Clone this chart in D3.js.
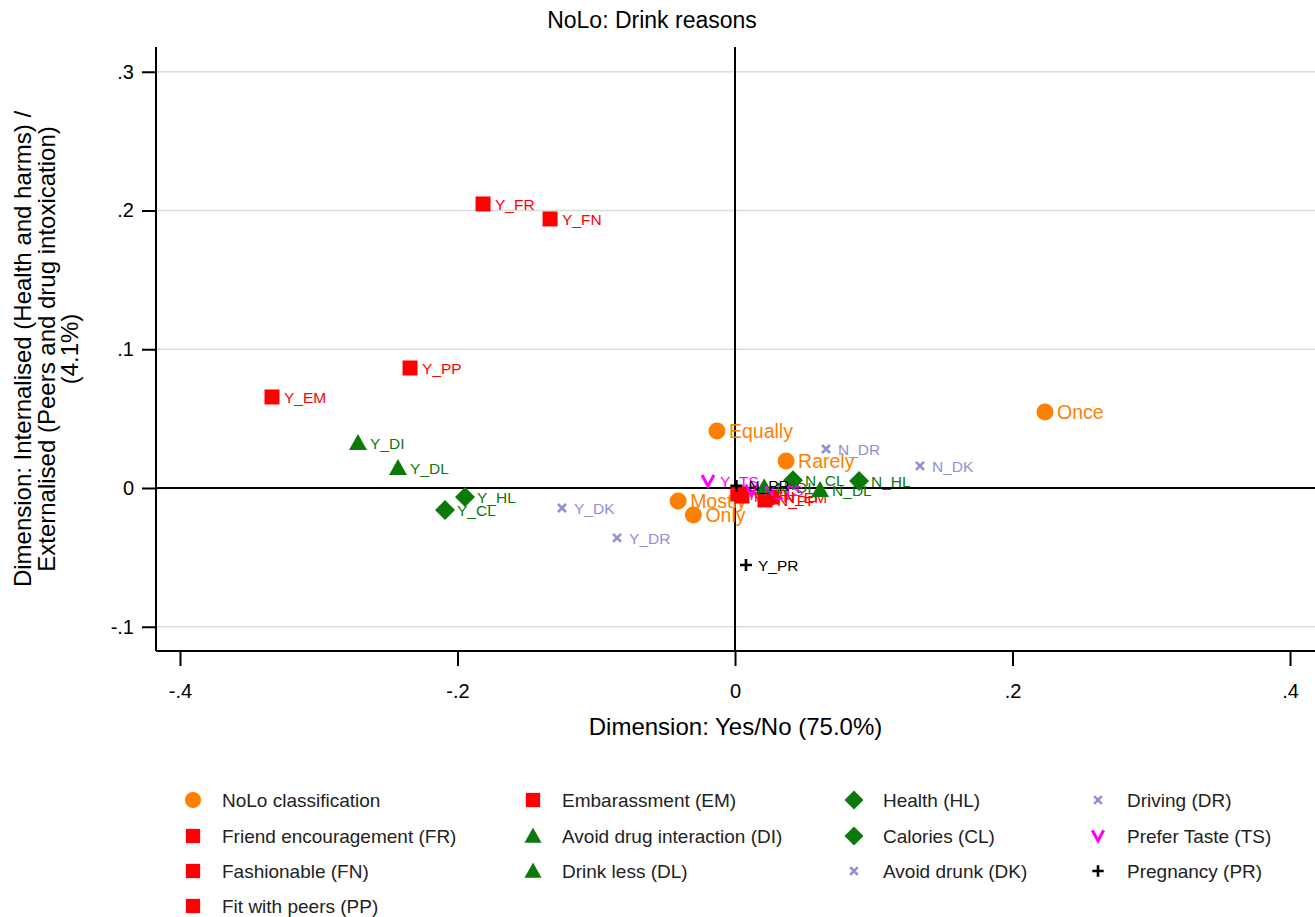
<!DOCTYPE html>
<html>
<head>
<meta charset="utf-8">
<script src="https://cdn.jsdelivr.net/npm/d3@7"></script>
<style>
  html, body { margin: 0; padding: 0; background: #fff; }
  svg { display: block; font-family: "Liberation Sans", Arial, sans-serif; }
</style>
</head>
<body>
<svg id="chart" width="1315" height="917"></svg>
<script>
// Correspondence analysis coordinates: [label, dim1 (Yes/No), dim2 (Internalised/Externalised)]
const noloClass   = [["Once", 0.2234, 0.0548], ["Equally", -0.0130, 0.0410], ["Rarely", 0.0368, 0.0195],
                     ["Mostly", -0.0410, -0.0094], ["Only", -0.0300, -0.0195]];
const friendEnc   = [["Y_FR", -0.1816, 0.2047], ["N_FR", 0.0020, -0.0043]];
const fashionable = [["Y_FN", -0.1333, 0.1939], ["N_FN", 0.0050, -0.0058]];
const fitPeers    = [["Y_PP", -0.2342, 0.0865], ["N_PP", 0.0216, -0.0086]];
const embarass    = [["Y_EM", -0.3337, 0.0656], ["N_EM", 0.0267, -0.0065]];
const drugInter   = [["Y_DI", -0.2717, 0.0324], ["N_DI", 0.0210, 0.0005]];
const drinkLess   = [["Y_DL", -0.2429, 0.0144], ["N_DL", 0.0613, -0.0014]];
const health      = [["Y_HL", -0.1946, -0.0065], ["N_HL", 0.0894, 0.0050]];
const calories    = [["Y_CL", -0.2090, -0.0159], ["N_CL", 0.0418, 0.0055]];
const avoidDrunk  = [["Y_DK", -0.1247, -0.0144], ["N_DK", 0.1333, 0.0159]];
const driving     = [["Y_DR", -0.0850, -0.0360], ["N_DR", 0.0656, 0.0281]];
const preferTaste = [["Y_TS", -0.0195, 0.0050], ["N_TS", 0.0120, -0.0020]];
const pregnancy   = [["Y_PR", 0.0079, -0.0555], ["N_PR", 0.0010, 0.0015]];

const xTicks = [-0.4, -0.2, 0, 0.2, 0.4];
const yTicks = [-0.1, 0, 0.1, 0.2, 0.3];

const titleText = "NoLo: Drink reasons";
const xTitle = "Dimension: Yes/No (75.0%)";
const yTitleLines = ["Dimension: Internalised (Health and harms) /",
                     "Externalised (Peers and drug intoxication)",
                     "(4.1%)"];

// Series styling, in the order they are drawn and listed in the legend
const ORANGE = "#ff8000", RED = "#ff0000", GREEN = "#0b7a0b", LAV = "#9090d4", MAG = "#ff00ff", BLK = "#000";
const series = [
  { name: "NoLo classification",        data: noloClass,   shape: "circle",   color: ORANGE, fs: 19.5 },
  { name: "Friend encouragement (FR)",  data: friendEnc,   shape: "square",   color: RED,    fs: 15.5 },
  { name: "Fashionable (FN)",           data: fashionable, shape: "square",   color: RED,    fs: 15.5 },
  { name: "Fit with peers (PP)",        data: fitPeers,    shape: "square",   color: RED,    fs: 15.5 },
  { name: "Embarassment (EM)",          data: embarass,    shape: "square",   color: RED,    fs: 15.5 },
  { name: "Avoid drug interaction (DI)",data: drugInter,   shape: "triangle", color: GREEN,  fs: 15.5 },
  { name: "Drink less (DL)",            data: drinkLess,   shape: "triangle", color: GREEN,  fs: 15.5 },
  { name: "Health (HL)",                data: health,      shape: "diamond",  color: GREEN,  fs: 15.5 },
  { name: "Calories (CL)",              data: calories,    shape: "diamond",  color: GREEN,  fs: 15.5 },
  { name: "Avoid drunk (DK)",           data: avoidDrunk,  shape: "x",        color: LAV,    fs: 15.5 },
  { name: "Driving (DR)",               data: driving,     shape: "x",        color: LAV,    fs: 15.5 },
  { name: "Prefer Taste (TS)",          data: preferTaste, shape: "v",        color: MAG,    fs: 15.5 },
  { name: "Pregnancy (PR)",             data: pregnancy,   shape: "plus",     color: BLK,    fs: 15.5 }
];

const svg = d3.select("#chart");
const L = 156, R = 1315, T = 47, B = 651;
const x = d3.scaleLinear().domain([-0.4173, 0.4180]).range([L, R]);
const y = d3.scaleLinear().domain([-0.11748, 0.31784]).range([B, T]);

// Stata-style tick labels: no leading zero, plain hyphen for negatives
const fmt = v => {
  if (Math.abs(v) < 1e-9) return "0";
  const s = Math.abs(v).toFixed(1).replace(/^0\./, ".");
  return (v < 0 ? "-" : "") + s;
};

// Horizontal gridlines
svg.append("g").selectAll("line").data(yTicks).join("line")
  .attr("x1", L).attr("x2", R)
  .attr("y1", d => y(d)).attr("y2", d => y(d))
  .attr("stroke", "#dcdcdc").attr("stroke-width", 1.5);

// Axes
const xAxis = svg.append("g").attr("transform", `translate(0,${B})`)
  .call(d3.axisBottom(x).tickValues(xTicks).tickFormat(fmt).tickSize(15).tickPadding(18));
const yAxis = svg.append("g").attr("transform", `translate(${L},0)`)
  .call(d3.axisLeft(y).tickValues(yTicks).tickFormat(fmt).tickSize(14).tickPadding(8));
[xAxis, yAxis].forEach(g => {
  g.select(".domain").attr("stroke", "#000").attr("stroke-width", 2);
  g.selectAll(".tick line").attr("stroke", "#000").attr("stroke-width", 2);
  g.selectAll(".tick text").attr("fill", "#000").style("font-size", "20px")
    .style("font-family", "'Liberation Sans', Arial, sans-serif");
});
xAxis.select(".domain").attr("d", `M${L},0H${R}`);
yAxis.select(".domain").attr("d", `M0,${T}V${B}`);

// Zero reference lines
svg.append("line").attr("x1", x(0)).attr("x2", x(0)).attr("y1", T).attr("y2", B)
  .attr("stroke", "#000").attr("stroke-width", 2);
svg.append("line").attr("x1", L).attr("x2", R).attr("y1", y(0)).attr("y2", y(0))
  .attr("stroke", "#000").attr("stroke-width", 2);

// Marker drawing
function marker(g, shape, color, cx, cy, scale = 1) {
  const s = scale;
  if (shape === "circle") {
    g.append("circle").attr("cx", cx).attr("cy", cy).attr("r", 8.5 * s).attr("fill", color);
  } else if (shape === "square") {
    g.append("rect").attr("x", cx - 7.5 * s).attr("y", cy - 7.5 * s)
      .attr("width", 15 * s).attr("height", 15 * s).attr("fill", color);
  } else if (shape === "triangle") {
    const h = 9 * s;
    g.append("path").attr("d", `M${cx},${cy - h}L${cx + 9 * s},${cy + 7 * s}L${cx - 9 * s},${cy + 7 * s}Z`)
      .attr("fill", color);
  } else if (shape === "diamond") {
    const h = 10 * s;
    g.append("path").attr("d", `M${cx},${cy - h}L${cx + h},${cy}L${cx},${cy + h}L${cx - h},${cy}Z`)
      .attr("fill", color);
  } else if (shape === "x") {
    const h = 4 * s;
    g.append("path").attr("d", `M${cx - h},${cy - h}L${cx + h},${cy + h}M${cx - h},${cy + h}L${cx + h},${cy - h}`)
      .attr("stroke", color).attr("stroke-width", 2.6);
  } else if (shape === "v") {
    g.append("path").attr("d", `M${cx - 6 * s},${cy - 6 * s}L${cx},${cy + 5 * s}L${cx + 6 * s},${cy - 6 * s}`)
      .attr("stroke", color).attr("stroke-width", 3).attr("fill", "none");
  } else if (shape === "plus") {
    const h = 6 * s;
    g.append("path").attr("d", `M${cx - h},${cy}L${cx + h},${cy}M${cx},${cy - h}L${cx},${cy + h}`)
      .attr("stroke", color).attr("stroke-width", 2.6);
  }
}

// Points and their labels
const pts = svg.append("g");
series.forEach(sr => {
  sr.data.forEach(([lab, vx, vy]) => {
    const cx = x(vx), cy = y(vy);
    marker(pts, sr.shape, sr.color, cx, cy);
    pts.append("text").attr("x", cx + 12).attr("y", cy).attr("dy", "0.36em")
      .attr("fill", sr.color).style("font-size", sr.fs + "px").text(lab);
  });
});

// Titles
svg.append("text").attr("x", 652).attr("y", 28).attr("text-anchor", "middle")
  .style("font-size", "23px").attr("fill", "#000").text(titleText);
svg.append("text").attr("x", (L + R) / 2 - 0).attr("y", 735).attr("text-anchor", "middle")
  .style("font-size", "24px").attr("fill", "#000").text(xTitle);
const yt = svg.append("text").attr("transform", `translate(0,${(T + B) / 2}) rotate(-90)`)
  .attr("text-anchor", "middle").style("font-size", "24px").attr("fill", "#000");
yTitleLines.forEach((line, i) => {
  yt.append("tspan").attr("x", 0).attr("y", 31 + i * 23.5).text(line);
});

// Legend: four columns, filled column by column
const legCols = [[0, 1, 2, 3], [4, 5, 6], [7, 8, 9], [10, 11, 12]];
const colX = [193, 533, 854, 1098];
const rowY = [800, 836, 871, 906];
const leg = svg.append("g");
legCols.forEach((col, ci) => {
  col.forEach((si, ri) => {
    const sr = series[si];
    const cx = colX[ci], cy = rowY[ri];
    marker(leg, sr.shape, sr.color, cx, cy, 0.95);
    leg.append("text").attr("x", cx + 29).attr("y", cy).attr("dy", "0.36em")
      .style("font-size", "19px").attr("fill", "#222").text(sr.name);
  });
});
</script>
</body>
</html>
